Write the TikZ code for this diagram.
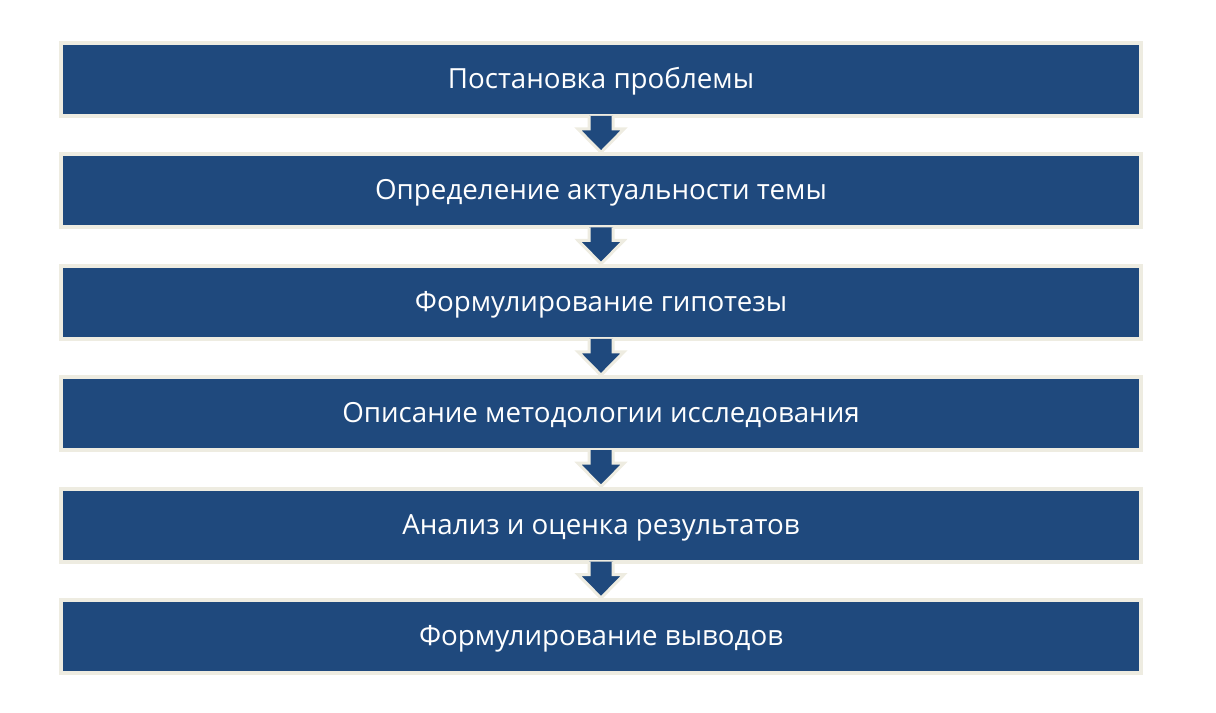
\documentclass[tikz,border=0pt]{standalone}
\usepackage{fontspec}
\setmainfont{Open Sans}
\usepackage{tikz}
\usetikzlibrary{calc}
\definecolor{stepblue}{RGB}{31,73,125}
\definecolor{cream}{RGB}{238,236,225}
\tikzset{
    stepbox/.style={rectangle, draw=cream, line width=3pt, fill=stepblue, minimum width=810pt, minimum height=54.75pt},
    steptext/.style={text=white, font=\fontsize{20.8}{22}\selectfont, anchor=base},
    downarrow/.style={draw=cream, fill=stepblue, line width=2.25pt, line join=miter,
        to path={($(\tikztostart)+(-12,-2)$) -- ($(\tikztostart)+(-12,11)$) -- ($(\tikztostart)+(-23,11)$) -- (\tikztotarget) -- ($(\tikztostart)+(23,11)$) -- ($(\tikztostart)+(12,11)$) -- ($(\tikztostart)+(12,-2)$)}}
}
\begin{document}
\begin{tikzpicture}[x=0.75pt, y=-0.75pt]
    \useasboundingbox (0,0) rectangle (1216,713);
    % Steps from top to bottom
    \node[stepbox] (problem) at (601,79.5) {};
    \node[stepbox] (relevance) at (601,190.9) {};
    \node[stepbox] (hypothesis) at (601,302.3) {};
    \node[stepbox] (method) at (601,413.7) {};
    \node[stepbox] (analysis) at (601,525.1) {};
    \node[stepbox] (conclusions) at (601,636.5) {};

    % Labels, baseline 9px below the box centre
    \node[steptext] (problemtext) at ($(problem.center)+(0,9)$) {Постановка проблемы};
    \node[steptext] (relevancetext) at ($(relevance.center)+(0,9)$) {Определение актуальности темы};
    \node[steptext] (hypothesistext) at ($(hypothesis.center)+(0,9)$) {Формулирование гипотезы};
    \node[steptext] (methodtext) at ($(method.center)+(0,9)$) {Описание методологии исследования};
    \node[steptext] (analysistext) at ($(analysis.center)+(0,9)$) {Анализ и оценка результатов};
    \node[steptext] (conclusionstext) at ($(conclusions.center)+(0,9)$) {Формулирование выводов};

    % Arrows between steps
    \draw[downarrow] (problem.south) to (relevance.north);
    \draw[downarrow] (relevance.south) to (hypothesis.north);
    \draw[downarrow] (hypothesis.south) to (method.north);
    \draw[downarrow] (method.south) to (analysis.north);
    \draw[downarrow] (analysis.south) to (conclusions.north);
\end{tikzpicture}
\end{document}
